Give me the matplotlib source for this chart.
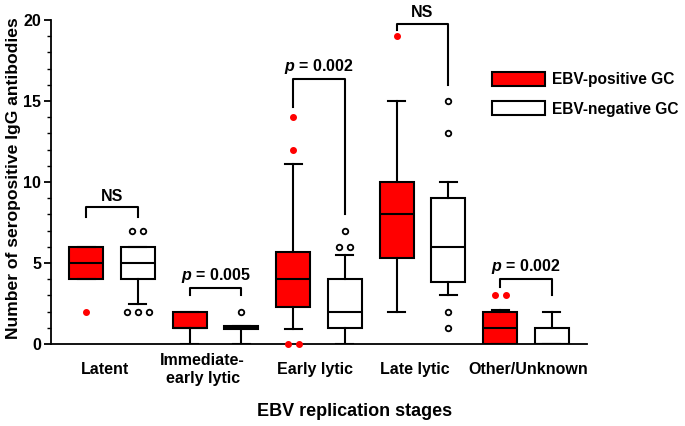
import numpy as np
import matplotlib
matplotlib.use("Agg")
import matplotlib.pyplot as plt
from matplotlib.patches import Patch

plt.rcParams['font.family'] = ['Liberation Sans', 'DejaVu Sans']
plt.rcParams['font.weight'] = 'bold'
plt.rcParams['mathtext.fontset'] = 'custom'
plt.rcParams['mathtext.it'] = 'Liberation Sans:italic:bold'
plt.rcParams['mathtext.rm'] = 'Liberation Sans:bold'

# === DATA ===
stages = ["Latent", "Immediate-\nearly lytic", "Early lytic", "Late lytic", "Other/Unknown"]

# EBV-positive GC
pos_q1 = [4, 1, 2.3, 5.3, 0]
pos_med = [5, 1, 4, 8, 1]
pos_q3 = [6, 2, 5.7, 10, 2]
pos_lo = [4, 0, 0.9, 2, 0]
pos_hi = [6, 2, 11.1, 15, 2.1]
pos_out = [[2], [], [14, 12, 0, 0], [19], [3, 3]]

# EBV-negative GC
neg_q1 = [4, 0.95, 1, 3.8, 0]
neg_med = [5, 1, 2, 6, 0]
neg_q3 = [6, 1.1, 4, 9, 1]
neg_lo = [2.5, 0, 0, 3, 0]
neg_hi = [6, 1.1, 5.5, 10, 2]
neg_out = [[7, 7, 2, 2, 2], [2], [7, 6, 6], [15, 13, 2, 1], []]

# significance brackets: top, left leg end, right leg end
sig_labels = ["NS", "$p$ = 0.005", "$p$ = 0.002", "NS", "$p$ = 0.002"]
sig_top = [8.45, 3.45, 16.35, 19.75, 4.0]
sig_left = [7.85, 3.0, 14.6, 19.4, 3.5]
sig_right = [7.85, 3.0, 8.0, 16.0, 3.0]

# =========================
# FIGURE
# =========================
fig = plt.figure(figsize=(6.85, 4.26), dpi=100)
ax = fig.add_axes([51/685, 1 - 344/426, 536/685, 324/426])

off = 0.25
width = 0.33
lw = 1.5


def make_stats(q1, med, q3, lo, hi):
    return [dict(q1=a, med=b, q3=c, whislo=d, whishi=e, fliers=[])
            for a, b, c, d, e in zip(q1, med, q3, lo, hi)]


def draw_group(stats, xs, face):
    ax.bxp(stats, positions=xs, widths=width, patch_artist=True,
           showfliers=False, manage_ticks=False,
           boxprops=dict(facecolor=face, edgecolor="black", linewidth=lw),
           medianprops=dict(color="black", linewidth=lw),
           whiskerprops=dict(color="black", linewidth=lw),
           capprops=dict(color="black", linewidth=lw),
           capwidths=width / 2)


def draw_outliers(outs, xs, filled):
    for vals, x in zip(outs, xs):
        for v in sorted(set(vals)):
            n = vals.count(v)
            px = x + (np.arange(n) - (n - 1) / 2) * 0.105
            if filled:
                ax.plot(px, [v] * n, "o", color="red", ms=4, mec="red",
                        clip_on=False, zorder=5)
            else:
                ax.plot(px, [v] * n, "o", mfc="white", mec="black", ms=4,
                        mew=1.3, clip_on=False, zorder=5)


centers = np.arange(len(stages))
draw_group(make_stats(pos_q1, pos_med, pos_q3, pos_lo, pos_hi), centers - off, "#ff0000")
draw_group(make_stats(neg_q1, neg_med, neg_q3, neg_lo, neg_hi), centers + off, "white")
draw_outliers(pos_out, centers - off, True)
draw_outliers(neg_out, centers + off, False)

# brackets
for i in range(len(stages)):
    xl, xr = centers[i] - off, centers[i] + off
    ax.plot([xl, xl, xr, xr], [sig_left[i], sig_top[i], sig_top[i], sig_right[i]],
            color="black", lw=1.5, clip_on=False)
    ax.text(centers[i], sig_top[i] + 0.22, sig_labels[i], ha="center", va="bottom",
            fontsize=11.5, fontweight="bold", clip_on=False)

# axes
ax.set_xlim(-0.59, 4.59)
ax.set_ylim(0, 20)
ax.set_yticks([0, 5, 10, 15, 20])
ax.set_yticks(np.arange(0, 21, 1), minor=True)
# category labels sit a little off the group centres, as in the original
label_shift = [-0.07, -0.125, -0.04, -0.07, 0.02]
ax.set_xticks(centers + np.array(label_shift))
ax.set_xticklabels(stages)
ax.tick_params(axis="x", length=0, pad=18.5, labelsize=11.5)
ax.tick_params(axis="y", which="major", length=5, width=1.3, labelsize=11.5, pad=2)
ax.tick_params(axis="y", which="minor", length=3, width=1.0)
for lab in ax.get_xticklabels():
    lab.set_verticalalignment("center")
for lab in ax.get_xticklabels() + ax.get_yticklabels():
    lab.set_fontweight("bold")
ax.spines["top"].set_visible(False)
ax.spines["right"].set_visible(False)
ax.spines["left"].set_linewidth(1.3)
ax.spines["bottom"].set_linewidth(1.3)
ax.set_ylabel("Number of seropositive IgG antibodies", fontsize=12.6, fontweight="bold",
              va="center")
ax.yaxis.set_label_coords(-37/536, (344 - 178) / 324)
ax.set_xlabel("EBV replication stages", fontsize=13, fontweight="bold")
ax.xaxis.set_label_coords((355 - 51) / 536, -(411 - 344) / 324)
ax.xaxis.label.set_verticalalignment("center")

handles = [Patch(facecolor="#ff0000", edgecolor="black", linewidth=1.5),
           Patch(facecolor="white", edgecolor="black", linewidth=1.5)]
ax.legend(handles, ["EBV-positive GC", "EBV-negative GC"], loc="upper left",
          bbox_to_anchor=(492/685, 1 - 72/426), bbox_transform=fig.transFigure,
          frameon=False, handlelength=3.4, handleheight=1.0,
          labelspacing=0.9, borderpad=0, borderaxespad=0, handletextpad=0.45,
          prop=dict(weight="bold", size=11.2))

fig.savefig("out.png", dpi=100)
